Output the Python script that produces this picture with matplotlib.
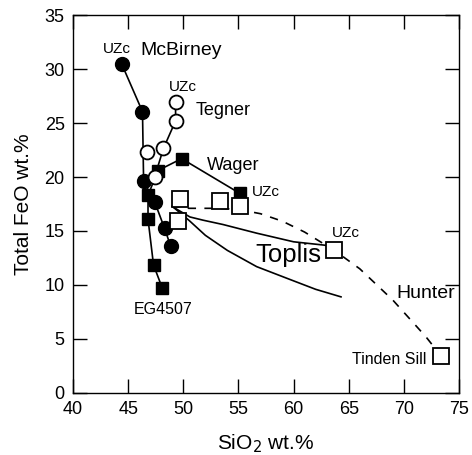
import matplotlib
matplotlib.use("Agg")
import matplotlib.pyplot as plt

plt.rcParams['font.family'] = ['Liberation Sans', 'DejaVu Sans']

# McBirney trend (filled circles)
mcb_x = [44.4, 46.3, 46.4, 47.4, 48.3, 48.85]
mcb_y = [30.5, 26.05, 19.6, 17.7, 15.25, 13.6]

# Tegner trend (open circles)
teg_x = [49.3, 49.3, 48.2, 47.4]
teg_y = [26.9, 25.2, 22.65, 20.0]
teg_extra_x = [46.7]
teg_extra_y = [22.3]

# Wager / EG4507 trend (filled squares)
wag_x = [55.1, 49.85, 47.7, 46.8, 46.8, 47.3, 48.1]
wag_y = [18.5, 21.7, 20.6, 18.3, 16.1, 11.85, 9.7]

# Hunter samples (open squares) and model curve
hun_pts_x = [49.7, 49.55, 53.3, 55.1, 63.7, 73.4]
hun_pts_y = [18.0, 15.9, 17.8, 17.3, 13.2, 3.4]
hun_x = [48.9, 50.5, 53.3, 55.0, 57.0, 59.0, 61.0, 63.7, 66.0, 69.0, 72.0, 73.4]
hun_y = [17.3, 17.1, 17.1, 17.0, 16.6, 15.9, 14.9, 13.2, 11.5, 8.6, 5.2, 3.4]

# Toplis model curves
top1_x = [49.1, 50.6, 51.8, 53.6, 56.65, 60.0, 62.7, 63.4]
top1_y = [17.2, 16.3, 16.0, 15.6, 14.8, 14.0, 13.7, 13.6]
top2_x = [49.1, 50.5, 52.0, 54.0, 56.65, 59.7, 62.0, 64.3]
top2_y = [17.2, 16.0, 14.6, 13.2, 11.7, 10.5, 9.6, 8.9]

fig = plt.figure(figsize=(4.72, 4.55), dpi=100)
ax = fig.add_axes([0.1547, 0.1363, 0.8178, 0.8307])

lw = 1.2
ax.plot(top1_x, top1_y, color='black', lw=lw, zorder=2)
ax.plot(top2_x, top2_y, color='black', lw=lw, zorder=2)
ax.plot(hun_x, hun_y, color='black', lw=lw, ls=(0, (5, 5)), zorder=2)

ax.plot(mcb_x, mcb_y, color='black', lw=lw, marker='o', ms=10,
        mfc='black', mec='black', zorder=3)
ax.plot(wag_x, wag_y, color='black', lw=lw, marker='s', ms=8.5,
        mfc='black', mec='black', zorder=3)
ax.plot(teg_x, teg_y, color='black', lw=lw, marker='o', ms=10,
        mfc='white', mec='black', mew=1.3, zorder=4)
ax.plot(teg_extra_x, teg_extra_y, ls='none', marker='o', ms=10,
        mfc='white', mec='black', mew=1.3, zorder=4)
ax.plot(hun_pts_x, hun_pts_y, ls='none', marker='s', ms=11,
        mfc='white', mec='black', mew=1.3, zorder=4)

# annotations
ax.text(44.0, 31.85, 'UZc', fontsize=11, ha='center', va='center')
ax.text(46.07, 31.75, 'McBirney', fontsize=14, ha='left', va='center')
ax.text(50.0, 28.3, 'UZc', fontsize=11, ha='center', va='center')
ax.text(51.1, 26.2, 'Tegner', fontsize=13, ha='left', va='center')
ax.text(52.15, 21.1, 'Wager', fontsize=13, ha='left', va='center')
ax.text(56.2, 18.6, 'UZc', fontsize=11, ha='left', va='center')
ax.text(63.45, 14.8, 'UZc', fontsize=11, ha='left', va='center')
ax.text(56.5, 12.8, 'Toplis', fontsize=18.5, ha='left', va='center')
ax.text(69.35, 9.2, 'Hunter', fontsize=14, ha='left', va='center')
ax.text(65.27, 3.1, 'Tinden Sill', fontsize=11.5, ha='left', va='center')
ax.text(45.47, 7.7, 'EG4507', fontsize=11.5, ha='left', va='center')

ax.set_xlim(40, 75)
ax.set_ylim(0, 35)
ax.set_xticks(range(40, 76, 5))
ax.set_yticks(range(0, 36, 5))
ax.tick_params(direction='in', length=10, width=1, labelsize=13,
               top=True, right=True, pad=6)
for s in ax.spines.values():
    s.set_linewidth(1)

ax.set_xlabel('SiO$_2$ wt.%', fontsize=15, labelpad=10)
ax.set_ylabel('Total FeO wt.%', fontsize=15, labelpad=8)

fig.savefig('out.png', dpi=100)
